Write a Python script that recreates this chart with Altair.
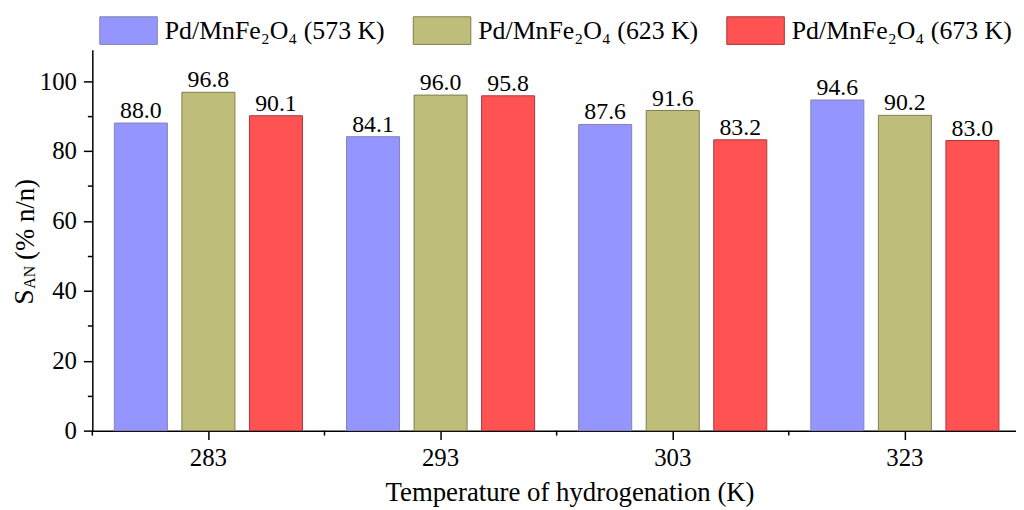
import altair as alt
import pandas as pd

temps = ["283", "293", "303", "323"]
series = ["Pd/MnFe₂O₄ (573 K)", "Pd/MnFe₂O₄ (623 K)", "Pd/MnFe₂O₄ (673 K)"]
s573 = [88.0, 84.1, 87.6, 94.6]
s623 = [96.8, 96.0, 91.6, 90.2]
s673 = [90.1, 95.8, 83.2, 83.0]
fills = ["#9595FF", "#BEBE7A", "#FF5252"]
strokes = ["#8282B4", "#7D7D50", "#A83838"]

rows = []
for s, vals in zip(series, [s573, s623, s673]):
    for t, v in zip(temps, vals):
        rows.append({"temp": t, "series": s, "value": v})
df = pd.DataFrame(rows)

FONT = "Liberation Serif"

x_axis = alt.Axis(title="Temperature of hydrogenation (K)", labelAngle=0, tickSize=9,
                  labelPadding=6, titleX=481, titleY=70, titleAnchor="start", titleAlign="center",
                  titleBaseline="alphabetic", domainWidth=1.5, tickWidth=1.5)
x_scale = alt.Scale(range=[0, 936], paddingInner=0, paddingOuter=0)
x = alt.X("temp:N", sort=temps, scale=x_scale, axis=x_axis)
xo = alt.XOffset("series:N", sort=series, scale=alt.Scale(paddingInner=0.215, paddingOuter=0.326))
y = alt.Y("value:Q", scale=alt.Scale(domain=[0, 109], nice=False),
          axis=alt.Axis(values=list(range(0, 101, 10)), title=None, grid=False,
                        labelExpr="datum.value % 20 == 0 ? datum.label : ''",
                        tickSize={"condition": {"test": "datum.value % 20 != 0", "value": 5}, "value": 9},
                        labelPadding=7, domainWidth=1.5, tickWidth=1.5))

leg = alt.Legend(title=None, orient="none", legendX=7, legendY=-49, direction="horizontal",
                 columns=3, symbolType="M-1,-0.48L1,-0.48L1,0.48L-1,0.48Z", symbolSize=3364,
                 symbolStrokeWidth=1, labelFont=FONT, labelFontSize=26, labelColor="black",
                 labelOffset=7, columnPadding=26, labelLimit=400)

bars = alt.Chart(df).mark_bar(strokeWidth=1).encode(
    x=x, xOffset=xo, y=y,
    fill=alt.Fill("series:N", sort=series, scale=alt.Scale(domain=series, range=fills), legend=leg),
    stroke=alt.Stroke("series:N", sort=series, scale=alt.Scale(domain=series, range=strokes), legend=leg),
)

labels = alt.Chart(df).mark_text(font=FONT, fontSize=24, baseline="alphabetic", dy=-5, color="black").encode(
    x=x, xOffset=xo, y=y, text=alt.Text("value:Q", format=".1f")
)

minor = alt.Chart(pd.DataFrame({"temp": temps})).mark_rule(strokeWidth=1.5, color="black").encode(
    x=alt.X("temp:N", sort=temps, scale=x_scale, axis=x_axis, bandPosition=0),
    y=alt.value(384), y2=alt.value(389)
)

title_parts = ["S", "AN", "(% n/n)"]
t1 = alt.Chart(pd.DataFrame({"t": [title_parts[0]]})).mark_text(
    angle=270, align="left", baseline="alphabetic", fontSize=28, font=FONT, color="black"
).encode(x=alt.value(-60), y=alt.value(257), text="t:N")
t2 = alt.Chart(pd.DataFrame({"t": [title_parts[1]]})).mark_text(
    angle=270, align="left", baseline="alphabetic", fontSize=16, font=FONT, color="black"
).encode(x=alt.value(-58), y=alt.value(241), text="t:N")
t3 = alt.Chart(pd.DataFrame({"t": [title_parts[2]]})).mark_text(
    angle=270, align="left", baseline="alphabetic", fontSize=27, font=FONT, color="black"
).encode(x=alt.value(-59), y=alt.value(212), text="t:N")

chart = alt.layer(bars, labels, minor, t1, t2, t3).properties(
    width=931, height=384,
    autosize=alt.AutoSizeParams(type="none"),
    padding={"left": 85, "top": 40, "right": 0, "bottom": 78},
).configure_view(stroke=None).configure_axis(
    labelFont=FONT, labelFontSize=25, labelColor="black", titleFont=FONT, titleFontSize=27,
    titleColor="black", titleFontWeight="normal", domainColor="black", tickColor="black"
)

chart.save("out.html", embed_options={"renderer": "svg", "actions": False})
